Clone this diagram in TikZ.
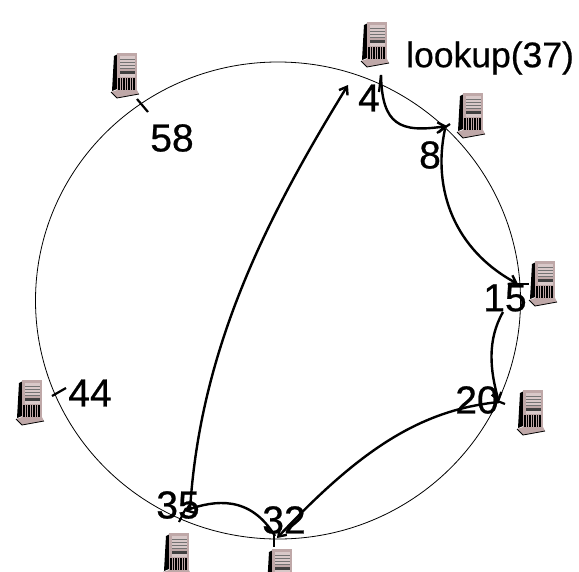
\documentclass[tikz,border=0pt]{standalone}
\usepackage{fontspec}
\setmainfont{Liberation Sans}
\newfontfamily\heavyfont[FakeBold=0.6]{Liberation Sans}
\usetikzlibrary{shapes.geometric}
\usetikzlibrary{arrows.meta}
\definecolor{srvbody}{HTML}{BFA8A8}
\definecolor{srvlight}{HTML}{D8C8C8}
\tikzset{
    x=1pt, y=-1pt,
    idlabel/.style = {inner sep=0pt, font=\heavyfont\fontsize{39}{39}\selectfont, text=black},
    querylabel/.style = {inner sep=0pt, anchor=west, font=\heavyfont\fontsize{35.5}{36}\selectfont, text=black},
    ringline/.style = {ellipse, draw=black, line width=0.8pt, minimum width=485pt, minimum height=477pt, inner sep=0pt},
    tickline/.style = {-, line width=2.2pt, black},
    hopline/.style = {-{Straight Barb[length=7pt,width=10pt]}, line width=2.4pt, black},
    server/.pic = {
      \fill[black] (1,38) -- (6,36) -- (7,1) -- (3,3) -- cycle;
      \fill[srvbody] (6,0) -- (26,0) -- (26,37) -- (6,37) -- cycle;
      \fill[srvlight] (9,3) rectangle (24,15);
      \foreach \yy in {6,9,12,15} {\draw[black!55, line width=0.5pt] (9,\yy) -- (24,\yy);}
      \fill[black!75] (9,18) rectangle (24,21);
      \fill[srvlight] (9,21) rectangle (24,24);
      \foreach \xx in {8,10.5,...,25} {\draw[black, line width=1.1pt] (\xx,25) -- (\xx,38);}
      \fill[srvbody] (0,39) -- (6,37) -- (26,37) -- (28,41) -- (6,45) -- cycle;
      \draw[black, line width=0.8pt] (0,39) -- (6,45) -- (28,41);
    }
}
\begin{document}
\begin{tikzpicture}
  \useasboundingbox (0,0) rectangle (579,571);
  \begin{scope}
    \clip (0,0) rectangle (579,571);
    \pic at (361,22) {server};
    \pic at (457,93) {server};
    \pic at (529,261) {server};
    \pic at (517,390) {server};
    \pic at (266,549) {server};
    \pic at (163,533) {server};
    \pic at (16,380) {server};
    \pic at (111,53) {server};
  \end{scope}
  \node[ringline] (ring) at (278,300.5) {};
  % ticks
  \coordinate (t4a) at (381,75);   \coordinate (t4b) at (379,92);
  \coordinate (t8a) at (437,133);  \coordinate (t8b) at (450,124);
  \coordinate (t15a) at (513,284); \coordinate (t15b) at (529,284);
  \coordinate (t20a) at (495,400); \coordinate (t20b) at (505,404);
  \coordinate (t32a) at (274,533); \coordinate (t32b) at (274,547);
  \coordinate (t35a) at (179,522); \coordinate (t35b) at (186,508);
  \coordinate (t44a) at (52,396);  \coordinate (t44b) at (66,388);
  \coordinate (t58a) at (137,99);  \coordinate (t58b) at (148,112);
  \foreach \a/\b in {t4a/t4b,t8a/t8b,t15a/t15b,t20a/t20b,t32a/t32b,t35a/t35b,t44a/t44b,t58a/t58b}
    \draw[tickline] (\a) -- (\b);
  % labels
  \node[idlabel] (n4) at (369,98) {4};
  \node[idlabel] (n8) at (430,155) {8};
  \node[idlabel] (n15) at (505,298) {15};
  \node[idlabel] (n20) at (477,400) {20};
  \node[idlabel] (n32) at (284,520) {32};
  \node[idlabel] (n35) at (178,505) {35};
  \node[idlabel] (n44) at (90,393) {44};
  \node[idlabel] (n58) at (172,138) {58};
  \node[querylabel] (query) at (406,58) {lookup(37)};
  % hops
  \draw[hopline] (t4a) .. controls (382,125) and (400,133) .. (447,126);
  \draw[hopline] (445,129) .. controls (432,190) and (455,250) .. (518,284);
  \draw[hopline] (503,312) .. controls (487,340) and (490,370) .. (499,402);
  \draw[hopline] (499,402) .. controls (420,410) and (360,450) .. (277,538);
  \draw[hopline] (275,536) .. controls (250,495) and (215,500) .. (184,511);
  \draw[hopline] (190,510) .. controls (200,350) and (265,220) .. (348,85);
\end{tikzpicture}
\end{document}
